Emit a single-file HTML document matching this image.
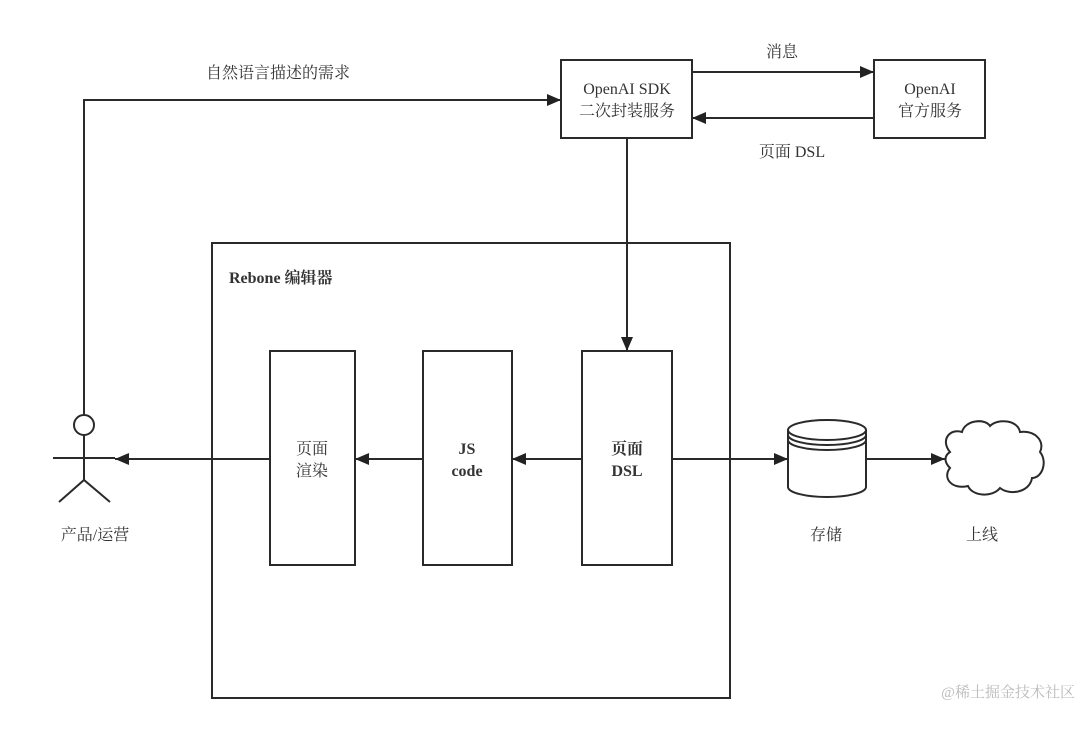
<!DOCTYPE html>
<html><head><meta charset="utf-8"><style>
body{margin:0;background:#fff}
svg text{font-family:"Liberation Serif","Noto Serif CJK SC",serif;fill:#333;font-size:16px}
</style></head><body>
<svg width="1080" height="726" viewBox="0 0 1080 726" xmlns="http://www.w3.org/2000/svg">
<defs><marker id="a" markerWidth="14" markerHeight="12" refX="14" refY="6" orient="auto" markerUnits="userSpaceOnUse"><path d="M0,0 L14,6 L0,12 z" fill="#222"/></marker></defs>
<g stroke="#2a2a2a" stroke-width="2" fill="none">
<rect x="561" y="60" width="131" height="78"/>
<rect x="874" y="60" width="111" height="78"/>
<line x1="692" y1="72" x2="874" y2="72" marker-end="url(#a)"/>
<line x1="874" y1="118" x2="692" y2="118" marker-end="url(#a)"/>
<polyline points="84,414 84,100 561,100" marker-end="url(#a)"/>
<line x1="627" y1="138" x2="627" y2="351" marker-end="url(#a)"/>
<rect x="212" y="243" width="518" height="455"/>
<rect x="270" y="351" width="85" height="214"/>
<rect x="423" y="351" width="89" height="214"/>
<rect x="582" y="351" width="90" height="214"/>
<line x1="582" y1="459" x2="512" y2="459" marker-end="url(#a)"/>
<line x1="423" y1="459" x2="355" y2="459" marker-end="url(#a)"/>
<line x1="270" y1="459" x2="115" y2="459" marker-end="url(#a)"/>
<line x1="672" y1="459" x2="788" y2="459" marker-end="url(#a)"/>
<line x1="866" y1="459" x2="945" y2="459" marker-end="url(#a)"/>
<circle cx="84" cy="425" r="10"/>
<line x1="84" y1="435" x2="84" y2="480"/>
<line x1="53" y1="458" x2="115" y2="458"/>
<polyline points="59,502 84,480 110,502"/>
<path d="M788,430 L788,487 A39,10 0 0 0 866,487 L866,430"/>
<ellipse cx="827" cy="430" rx="39" ry="10"/>
<path d="M788,435 A39,10 0 0 0 866,435 M788,440 A39,10 0 0 0 866,440"/>
<path d="M950,452 C940,440 950,428 962,432 C965,420 985,418 990,426 C998,418 1018,420 1020,432 C1036,430 1045,442 1040,452 C1048,462 1042,478 1032,478 C1030,492 1010,496 1000,488 C992,498 972,496 968,486 C952,490 942,478 950,468 C944,462 944,456 950,452 z"/>
</g>
<text x="627" y="94" text-anchor="middle">OpenAI SDK</text>
<text x="627" y="116" text-anchor="middle">二次封装服务</text>
<text x="930" y="94" text-anchor="middle">OpenAI</text>
<text x="930" y="116" text-anchor="middle">官方服务</text>
<text x="782" y="57" text-anchor="middle">消息</text>
<text x="792" y="157" text-anchor="middle">页面 DSL</text>
<text x="278" y="78" text-anchor="middle">自然语言描述的需求</text>
<text x="229" y="283" font-weight="bold" font-size="17">Rebone 编辑器</text>
<text x="312" y="454" text-anchor="middle">页面</text>
<text x="312" y="476" text-anchor="middle">渲染</text>
<text x="467" y="454" text-anchor="middle" font-weight="bold">JS</text>
<text x="467" y="476" text-anchor="middle" font-weight="bold">code</text>
<text x="627" y="454" text-anchor="middle" font-weight="bold">页面</text>
<text x="627" y="476" text-anchor="middle" font-weight="bold">DSL</text>
<text x="95" y="540" text-anchor="middle">产品/运营</text>
<text x="826" y="540" text-anchor="middle">存储</text>
<text x="982" y="540" text-anchor="middle">上线</text>
<text x="1075" y="697" text-anchor="end" font-family="Liberation Sans,Noto Sans CJK SC,sans-serif" style="fill:#bbb;font-size:15px">@稀土掘金技术社区</text>
</svg>
</body></html>
